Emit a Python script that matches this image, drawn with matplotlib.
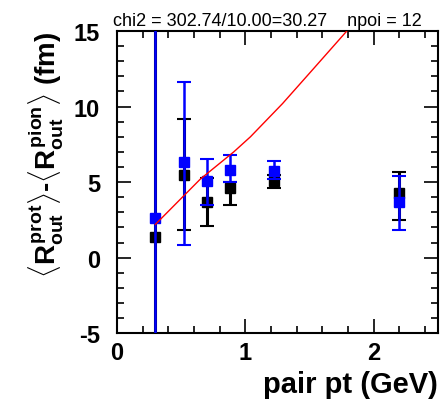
import matplotlib
matplotlib.use("Agg")
import matplotlib.pyplot as plt
from matplotlib.ticker import MultipleLocator

plt.rcParams['font.family'] = ['Liberation Sans', 'DejaVu Sans']
plt.rcParams['mathtext.fontset'] = 'custom'
plt.rcParams['mathtext.rm'] = 'Liberation Sans:bold'
plt.rcParams['mathtext.it'] = 'Liberation Sans:bold'
plt.rcParams['mathtext.bf'] = 'Liberation Sans:bold'
plt.rcParams['mathtext.sf'] = 'Liberation Sans:bold'
plt.rcParams['axes.unicode_minus'] = False

# data
pt = [0.30, 0.52, 0.70, 0.88, 1.22, 2.20]
black_y = [1.35, 5.5, 3.7, 4.6, 5.1, 4.3]
black_lo = [40.0, 3.7, 1.6, 1.1, 0.5, 1.8]
black_hi = [40.0, 3.7, 1.6, 0.4, 0.4, 1.35]
blue_y = [2.6, 6.3, 5.1, 5.8, 5.75, 3.7]
blue_lo = [40.0, 5.45, 1.6, 0.8, 0.55, 1.9]
blue_hi = [40.0, 5.3, 1.4, 1.0, 0.65, 1.7]
fit_x = [0.30, 0.65, 0.91, 1.04, 1.29, 1.53, 1.79]
fit_y = [2.2, 5.2, 7.0, 8.0, 10.2, 12.5, 15.0]
title = "chi2 = 302.74/10.00=30.27    npoi = 12"
xlabel = "pair pt (GeV)"
ylabel = r"$\langle R^{prot}_{out}\rangle$-$\langle R^{pion}_{out}\rangle$ (fm)"

fig = plt.figure(figsize=(4.46, 4.06), dpi=100)
ax = fig.add_axes([0.262, 0.177, 0.720, 0.744])

ax.errorbar(pt, black_y, yerr=[black_lo, black_hi], fmt='s', color='black',
            ms=7, elinewidth=2.2, capsize=5, capthick=1.5, zorder=3)
ax.errorbar(pt, blue_y, yerr=[blue_lo, blue_hi], fmt='s', color='#0000ff',
            ms=7, elinewidth=1.8, capsize=5, capthick=1.5, zorder=4)
ax.plot(fit_x, fit_y, color='#ff0000', lw=1.0, zorder=5)

ax.set_xlim(0, 2.5)
ax.set_ylim(-5, 15)
ax.xaxis.set_major_locator(MultipleLocator(1))
ax.xaxis.set_minor_locator(MultipleLocator(0.2))
ax.yaxis.set_major_locator(MultipleLocator(5))
ax.yaxis.set_minor_locator(MultipleLocator(1))
ax.tick_params(which='both', direction='in', top=True, right=True, width=1.2)
ax.tick_params(which='major', length=10, labelsize=17, pad=6)
ax.tick_params(axis='y', which='major', pad=12)
ax.tick_params(which='minor', length=5)
for lab in ax.get_xticklabels() + ax.get_yticklabels():
    lab.set_fontweight('bold')
for s in ax.spines.values():
    s.set_linewidth(1.5)

ax.set_xlabel(xlabel, fontsize=21, fontweight='bold', loc='right', labelpad=4)
ax.set_ylabel(ylabel, fontsize=20, fontweight='bold', loc='top', labelpad=6)
fig.text(0.253, 0.925, title, fontsize=13, ha='left', va='bottom')

fig.savefig("out.png", dpi=100)
